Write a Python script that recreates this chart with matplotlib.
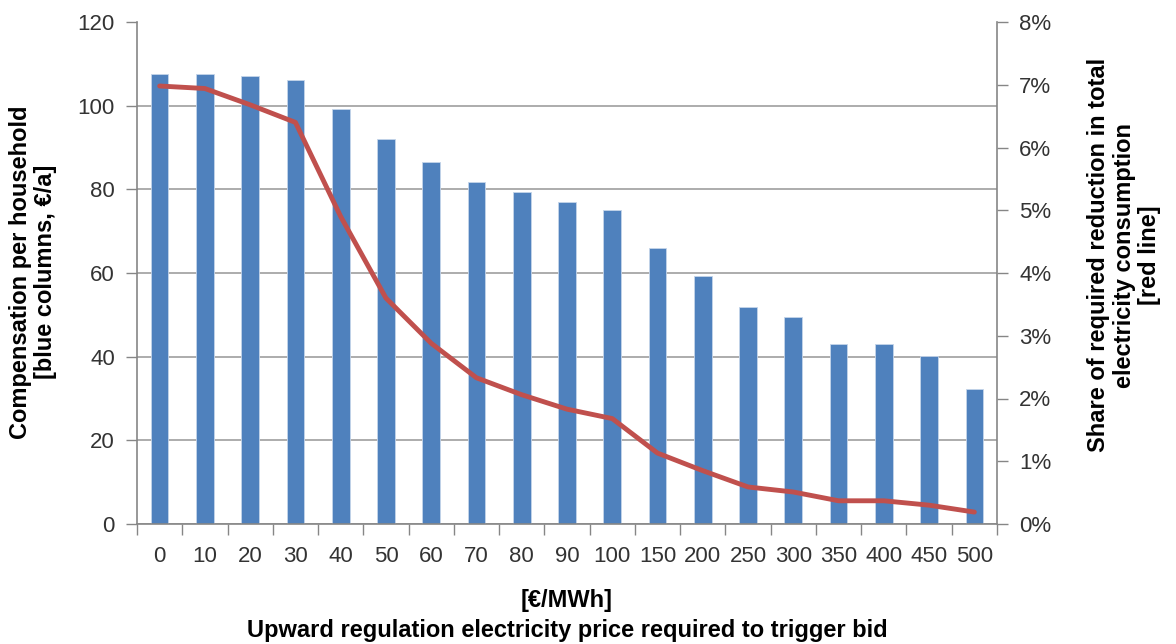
import matplotlib.pyplot as plt
import numpy as np
from matplotlib.ticker import FuncFormatter, FixedLocator

# Price steps and results
price_labels = ['0', '10', '20', '30', '40', '50', '60', '70', '80', '90', '100',
                '150', '200', '250', '300', '350', '400', '450', '500']
compensation = [107.6, 107.6, 107.1, 106.1, 99.3, 92.0, 86.5, 81.8, 79.4, 76.9,
                75.1, 65.9, 59.4, 51.8, 49.4, 43.0, 43.0, 40.2, 32.2]
reduction_share = [6.98, 6.94, 6.68, 6.40, 4.90, 3.60, 2.88, 2.33, 2.06, 1.83,
                   1.68, 1.13, 0.85, 0.59, 0.51, 0.37, 0.37, 0.30, 0.19]

plt.rcParams['font.family'] = ['Liberation Sans', 'DejaVu Sans']

axis_grey = '#868686'
grid_grey = '#a6a6a6'
text_col = '#333333'

fig = plt.figure(figsize=(11.76, 6.44), dpi=100, facecolor='white')
ax = fig.add_axes([137/1176, 1 - 524/644, 860/1176, 502/644])
x = np.arange(len(price_labels))

ax.bar(x, compensation, width=0.39, color='#4F81BD', edgecolor='#c5d5ea',
       linewidth=0.6, zorder=2)
ax.set_xlim(-0.5, len(price_labels) - 0.5)
ax.set_ylim(0, 120)
ax.set_yticks(np.arange(0, 121, 20))
ax.yaxis.grid(True, color=grid_grey, lw=1.3, zorder=0)
ax.set_axisbelow(True)
# no gridline along the top edge
ax.get_ygridlines()[-1].set_visible(False)

# category ticks sit between columns
ax.set_xticks(x)
ax.set_xticklabels(price_labels)
ax.xaxis.set_minor_locator(FixedLocator(np.arange(-0.5, len(price_labels), 1)))
ax.tick_params(axis='x', which='major', length=0, pad=16, labelsize=16, labelcolor=text_col)
ax.tick_params(axis='x', which='minor', length=8, width=1, color=axis_grey)
ax.tick_params(axis='y', length=8, width=1, color=axis_grey, labelsize=16,
               labelcolor=text_col, pad=8)

for side in ['top', 'right']:
    ax.spines[side].set_visible(False)
for side in ['left', 'bottom']:
    ax.spines[side].set_color(axis_grey)
    ax.spines[side].set_linewidth(1.2)

ax2 = ax.twinx()
ax2.plot(x, reduction_share, color='#C0504D', lw=3.5, solid_capstyle='round', zorder=3)
ax2.set_ylim(0, 8)
ax2.set_yticks(np.arange(0, 9, 1))
ax2.yaxis.set_major_formatter(FuncFormatter(lambda v, _: f'{v:.0f}%'))
ax2.tick_params(axis='y', length=8, width=1, color=axis_grey, labelsize=16,
                labelcolor=text_col, pad=8)
for side in ['top', 'left', 'bottom']:
    ax2.spines[side].set_visible(False)
ax2.spines['right'].set_color(axis_grey)
ax2.spines['right'].set_linewidth(1.2)

fig.text(33/1176, 1 - 272/644, 'Compensation per household\n[blue columns, \u20ac/a]',
         rotation=90, ha='center', va='center', fontsize=17, fontweight='bold',
         linespacing=1.15)
fig.text(1124/1176, 1 - 255/644,
         'Share of required reduction in total\nelectricity consumption\n[red line]',
         rotation=90, ha='center', va='center', fontsize=17, fontweight='bold',
         linespacing=1.15)
fig.text(567/1176, 1 - 600/644, '[\u20ac/MWh]', ha='center', va='center',
         fontsize=17, fontweight='bold')
fig.text(567/1176, 1 - 630/644, 'Upward regulation electricity price required to trigger bid',
         ha='center', va='center', fontsize=17, fontweight='bold')

fig.savefig('out.png', dpi=100, facecolor='white')
